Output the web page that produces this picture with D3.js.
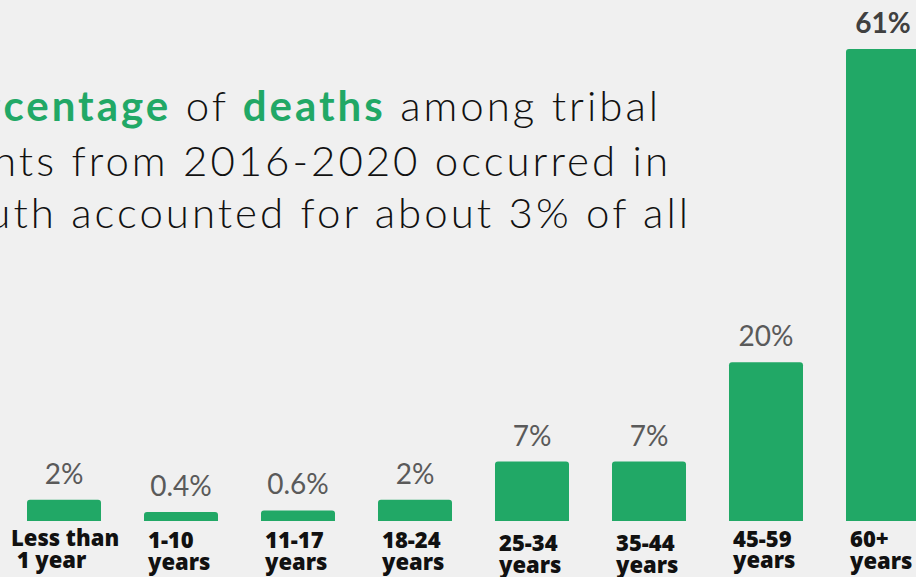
<!DOCTYPE html>
<html><head><meta charset="utf-8">
<script src="https://cdn.jsdelivr.net/npm/d3@7"></script>
<style>
html,body{margin:0;padding:0;background:#f0f0f0;overflow:hidden;}
svg{display:block;}
</style></head>
<body>
<script>
const categories = ["Less than 1 year","1-10 years","11-17 years","18-24 years","25-34 years","35-44 years","45-59 years","60+ years"];
const labelLines = [["Less than"," 1 year"],["1-10","years"],["11-17","years"],["18-24","years"],["25-34","years"],["35-44","years"],["45-59","years"],["60+","years"]];
const values = [2, 0.4, 0.6, 2, 7, 7, 20, 61];
const valueLabels = ["2%","0.4%","0.6%","2%","7%","7%","20%","61%"];
const titleLines = [
  [["The largest per", false], ["centage", true], [" of ", false], ["deaths", true], [" among tribal", false]],
  [["residents from 2016-2020 occurred in", false]],
  [["elders; youth accounted for about 3% of all", false]]
];

const W = 916, H = 577;
const green = "#21a866";
const svg = d3.select("body").append("svg").attr("width", W).attr("height", H);
svg.append("rect").attr("width", W).attr("height", H).attr("fill", "#f0f0f0");

const x = d3.scaleBand().domain(categories).range([27, 920]).paddingInner(0.3675).paddingOuter(0);
const y = d3.scaleLinear().domain([0, 61]).range([515, 49]);
const base = y(0) + 6;

// title
const tBase = [121, 176, 228];
const ls = 3.0;
titleLines.forEach((line, i) => {
  const t = svg.append("text").attr("x", [658, 668, 688][i] + ls).attr("y", tBase[i])
    .attr("text-anchor", "end")
    .attr("font-family", "Lato, sans-serif").attr("font-size", 42)
    .attr("letter-spacing", ls)
    .attr("fill", "#111");
  line.forEach(([s, hl]) => {
    t.append("tspan").text(s)
      .attr("fill", hl ? green : "#111")
      .attr("font-weight", hl ? 700 : 300)
      .style("white-space", "pre");
  });
});

// bars
const r = 3;
svg.selectAll("path.bar").data(values).join("path").attr("class", "bar")
  .attr("fill", green)
  .attr("d", (v, i) => {
    const x0 = x(categories[i]), w = x.bandwidth(), top = y(v);
    return `M${x0},${base}V${top + r}Q${x0},${top} ${x0 + r},${top}H${x0 + w - r}Q${x0 + w},${top} ${x0 + w},${top + r}V${base}Z`;
  });

// value labels
svg.selectAll("text.val").data(values).join("text").attr("class", "val")
  .attr("x", (v, i) => x(categories[i]) + x.bandwidth() / 2)
  .attr("y", v => y(v) - 16)
  .attr("text-anchor", "middle")
  .attr("font-family", "Lato, sans-serif")
  .attr("font-size", 28)
  .attr("font-weight", (v, i) => i === values.length - 1 ? 700 : 400)
  .attr("fill", (v, i) => i === values.length - 1 ? "#404040" : "#5a5a5a")
  .text((v, i) => valueLabels[i]);

// category labels
const lineY = [[546, 568],[548,570],[548,570],[548,570],[551,573],[551,573],[547,568],[547,569]];
labelLines.forEach((lines, i) => {
  const t = svg.append("text")
    .attr("font-family", "'Open Sans', sans-serif").attr("font-size", 22).attr("font-weight", 800)
    .attr("fill", "#111");
  lines.forEach((s, j) => {
    const lx = i === 0 ? x(categories[i]) - 16 : x(categories[i]) + 4;
    t.append("tspan").attr("x", lx).attr("y", lineY[i][j]).style("white-space", "pre").text(s);
  });
});
</script>
</body></html>
